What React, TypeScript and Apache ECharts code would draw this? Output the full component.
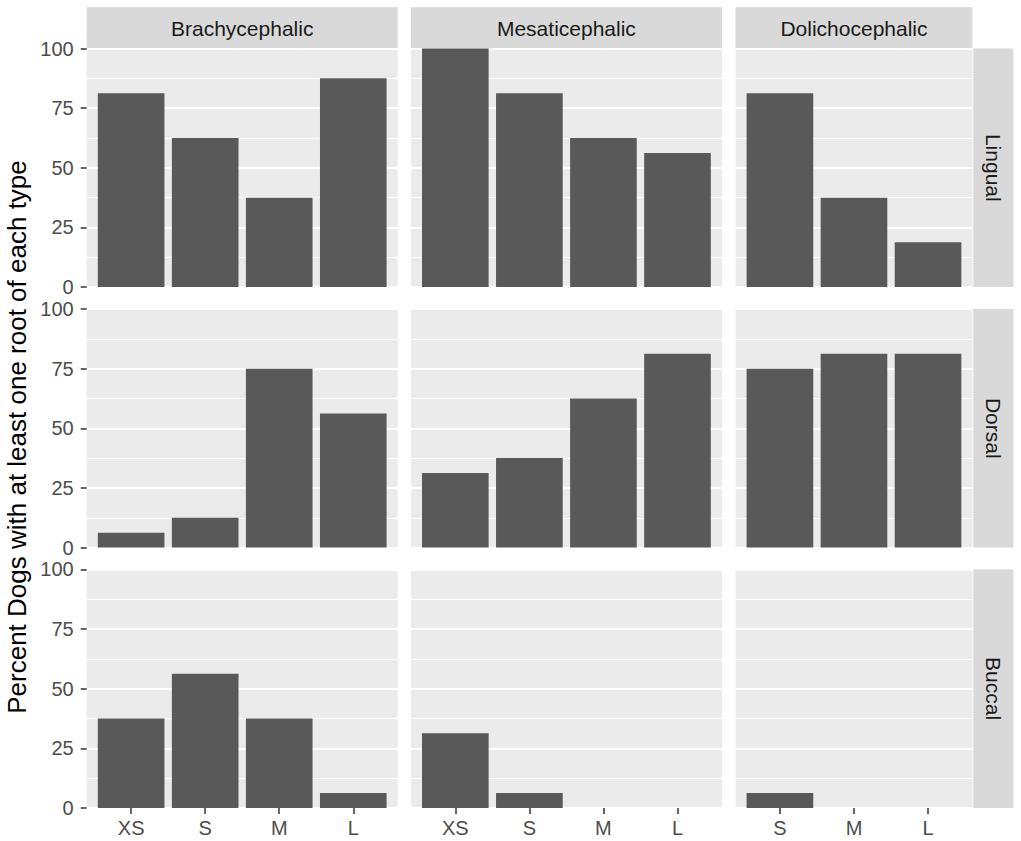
import React, { useEffect, useRef } from "react";
import * as echarts from "echarts";

// ---- Data ----
const colNames = ["Brachycephalic", "Mesaticephalic", "Dolichocephalic"];
const rowNames = ["Lingual", "Dorsal", "Buccal"];
const brachySizes = ["XS", "S", "M", "L"];
const mesatiSizes = ["XS", "S", "M", "L"];
const dolichoSizes = ["S", "M", "L"];

const lingualBrachy = [81.25, 62.5, 37.5, 87.5];
const lingualMesati = [100, 81.25, 62.5, 56.25];
const lingualDolicho = [81.25, 37.5, 18.75];

const dorsalBrachy = [6.25, 12.5, 75, 56.25];
const dorsalMesati = [31.25, 37.5, 62.5, 81.25];
const dorsalDolicho = [75, 81.25, 81.25];

const buccalBrachy = [37.5, 56.25, 37.5, 6.25];
const buccalMesati = [31.25, 6.25, 0, 0];
const buccalDolicho = [6.25, 0, 0];

const yTicks = [0, 25, 50, 75, 100];
const yTitle = "Percent Dogs with at least one root of each type";

const FONT = "'Liberation Sans', Arial, Helvetica, sans-serif";

export default function App() {
  const ref = useRef<HTMLDivElement>(null);

  useEffect(() => {
    document.body.style.margin = "0";
    if (!ref.current) return;
    const chart = echarts.init(ref.current, undefined, { renderer: "svg" });

    const sizesByCol = [brachySizes, mesatiSizes, dolichoSizes];
    const values = [
      [lingualBrachy, lingualMesati, lingualDolicho],
      [dorsalBrachy, dorsalMesati, dorsalDolicho],
      [buccalBrachy, buccalMesati, buccalDolicho],
    ];

    // layout (pixels)
    const unit = 74.05; // px per discrete x unit
    const colLeft = [86.7, 410.9, 735.5];
    const rowTop = [48.5, 309.0, 569.3];
    const rowH = 238.6;
    const stripTop = 7.3;
    const stripH = 41;
    const rStripLeft = 973.3;
    const rStripW = 40;

    const grids: any[] = [];
    const xAxes: any[] = [];
    const yAxes: any[] = [];
    const series: any[] = [];
    const graphics: any[] = [];

    for (let r = 0; r < 3; r++) {
      for (let c = 0; c < 3; c++) {
        const idx = r * 3 + c;
        const cats = sizesByCol[c];
        const n = cats.length;
        const w = unit * (n + 0.2);
        grids.push({
          left: colLeft[c],
          top: rowTop[r],
          width: w,
          height: rowH,
          show: true,
          backgroundColor: "#EBEBEB",
          borderWidth: 0,
          containLabel: false,
        });
        const pos = cats.map((_, i) => i + 1);
        xAxes.push({
          type: "value",
          gridIndex: idx,
          min: 0.4,
          max: n + 0.6,
          splitLine: { show: false },
          axisLine: { show: false },
          axisTick: {
            show: r === 2,
            customValues: pos,
            length: 6,
            lineStyle: { color: "#333333", width: 1.5 },
          },
          axisLabel: {
            show: r === 2,
            customValues: pos,
            formatter: (v: number) => cats[Math.round(v) - 1] ?? "",
            color: "#4D4D4D",
            fontSize: 20,
            fontFamily: FONT,
            margin: 10,
          },
        });
        yAxes.push({
          type: "value",
          gridIndex: idx,
          min: yTicks[0],
          max: yTicks[yTicks.length - 1],
          interval: 25,
          axisLine: { show: false },
          axisTick: {
            show: c === 0,
            length: 6,
            lineStyle: { color: "#333333", width: 1.5 },
          },
          axisLabel: {
            show: c === 0,
            color: "#4D4D4D",
            fontSize: 20,
            fontFamily: FONT,
            margin: 13,
          },
          splitLine: { show: true, lineStyle: { color: "#FFFFFF", width: 2 } },
          minorTick: { show: false, splitNumber: 2 },
          minorSplitLine: { show: true, lineStyle: { color: "#FFFFFF", width: 1 } },
        });
        series.push({
          type: "bar",
          xAxisIndex: idx,
          yAxisIndex: idx,
          barWidth: unit * 0.9,
          itemStyle: { color: "#595959" },
          data: values[r][c].map((v, i) => [i + 1, v]),
          silent: true,
        });

        // top strips
        if (r === 0) {
          graphics.push({
            type: "rect",
            shape: { x: colLeft[c], y: stripTop, width: w, height: stripH },
            style: { fill: "#D9D9D9" },
            silent: true,
          });
          graphics.push({
            type: "text",
            x: colLeft[c] + w / 2,
            y: stripTop + stripH / 2 + 0.5,
            style: {
              text: colNames[c],
              fill: "#1A1A1A",
              fontSize: 21,
              fontFamily: FONT,
              align: "center",
              verticalAlign: "middle",
            },
            silent: true,
          });
        }
      }
      // right strips
      graphics.push({
        type: "rect",
        shape: { x: rStripLeft, y: rowTop[r], width: rStripW, height: rowH },
        style: { fill: "#D9D9D9" },
        silent: true,
      });
      graphics.push({
        type: "text",
        x: rStripLeft + rStripW / 2,
        y: rowTop[r] + rowH / 2,
        rotation: -Math.PI / 2,
        style: {
          text: rowNames[r],
          fill: "#1A1A1A",
          fontSize: 21,
          fontFamily: FONT,
          align: "center",
          verticalAlign: "middle",
        },
        silent: true,
      });
    }

    graphics.push({
      type: "text",
      x: 17,
      y: 437,
      rotation: Math.PI / 2,
      style: {
        text: yTitle,
        fill: "#000000",
        fontSize: 26,
        fontFamily: FONT,
        align: "center",
        verticalAlign: "middle",
      },
      silent: true,
    });

    chart.setOption({
      animation: false,
      backgroundColor: "#FFFFFF",
      textStyle: { fontFamily: FONT },
      grid: grids,
      xAxis: xAxes,
      yAxis: yAxes,
      series,
      graphic: graphics,
    });

    return () => chart.dispose();
  }, []);

  return <div ref={ref} style={{ width: 1021, height: 841 }} />;
}
